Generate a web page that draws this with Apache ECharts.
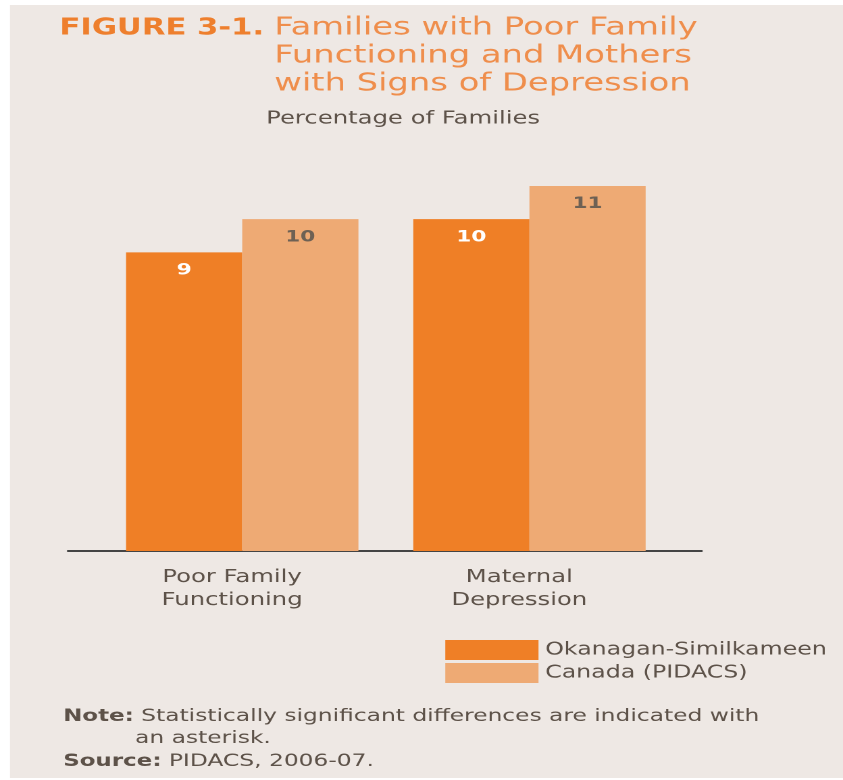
<!DOCTYPE html>
<html>
<head>
<meta charset="utf-8">
<style>
  html, body { margin: 0; padding: 0; background: #eee8e4; overflow: hidden; }
  /* The figure is laid out on a 624px-wide canvas and widened to 843px,
     giving the broad lettering of the printed figure. */
  #chart {
    width: 624px; height: 780px;
    transform: scaleX(1.35096); transform-origin: 0 0;
  }
</style>
<script src="https://cdn.jsdelivr.net/npm/echarts@6/dist/echarts.min.js"></script>
</head>
<body>
<div id="chart"></div>
<script>
// Share of families (%) by indicator
const categories = ['Poor Family\nFunctioning', 'Maternal\nDepression'];
const seriesNames = ['Okanagan-Similkameen', 'Canada (PIDACS)'];
const okanaganValues = [9, 10];
const canadaValues = [10, 11];

const FONT = '"DejaVu Sans", sans-serif';
const ORANGE = '#ef7f26';
const LIGHT = '#eeaa74';
const TEXT = '#5d5249';

const chart = echarts.init(document.getElementById('chart'), null, {
  renderer: 'canvas', devicePixelRatio: 2
});

chart.setOption({
  backgroundColor: '#ffffff',
  animation: false,
  graphic: [
    {
      type: 'rect', z: -10, silent: true,
      shape: { x: 7.4, y: 5, width: 640, height: 773 },
      style: { fill: '#eee8e4' }
    },
    {
      type: 'text', left: 46.7, top: 708,
      style: {
        text: '{b|Note:} Statistically significant differences are indicated with',
        font: '17.3px ' + FONT, fill: TEXT,
        rich: { b: { fontWeight: 'bold', fontSize: 17, fontFamily: FONT, fill: TEXT } }
      }
    },
    {
      type: 'text', left: 100, top: 730,
      style: { text: 'an asterisk.', font: '17.3px ' + FONT, fill: TEXT }
    },
    {
      type: 'text', left: 46.7, top: 753,
      style: {
        text: '{b|Source:} PIDACS, 2006-07.',
        font: '17.3px ' + FONT, fill: TEXT,
        rich: { b: { fontWeight: 'bold', fontSize: 17, fontFamily: FONT, fill: TEXT } }
      }
    }
  ],
  title: [
    {
      text: 'FIGURE 3-1.', left: 39, top: 12,
      textStyle: { fontFamily: FONT, fontSize: 22.7, fontWeight: 'bold', color: '#ee7f2d' }
    },
    {
      text: 'Families with Poor Family\nFunctioning and Mothers\nwith Signs of Depression',
      left: 198, top: 9,
      textStyle: { fontFamily: FONT, fontSize: 25, fontWeight: 'normal', color: '#ef8e4c', lineHeight: 28 }
    },
    {
      text: 'Percentage of Families', left: 192, top: 105,
      textStyle: { fontFamily: FONT, fontSize: 18, fontWeight: 'normal', color: TEXT }
    }
  ],
  legend: {
    orient: 'vertical', left: 329.6, top: 640, padding: 0,
    itemWidth: 69, itemHeight: 20, itemGap: 3,
    icon: 'rect',
    data: seriesNames,
    textStyle: { fontFamily: FONT, fontSize: 17.5, color: TEXT }
  },
  grid: [
    { left: 73, right: 125.8, top: 186, bottom: 229 },
    { left: 50.4, right: 104.7, top: 186, bottom: 229 }
  ],
  xAxis: [
    {
      type: 'category', gridIndex: 0, data: categories,
      axisLine: { show: false }, axisTick: { show: false },
      axisLabel: {
        fontFamily: FONT, fontSize: 18, color: TEXT, lineHeight: 23,
        margin: 15, padding: [0, 15, 0, 0]
      }
    },
    {
      type: 'value', gridIndex: 1, min: 0, max: 1,
      axisLine: { show: true, lineStyle: { color: '#444444', width: 2 } },
      axisTick: { show: false }, axisLabel: { show: false }, splitLine: { show: false }
    }
  ],
  yAxis: [
    { type: 'value', gridIndex: 0, min: 0, max: 11, show: false, splitLine: { show: false } },
    { type: 'value', gridIndex: 1, min: 0, max: 11, show: false, splitLine: { show: false } }
  ],
  series: [
    {
      name: seriesNames[0], type: 'bar', xAxisIndex: 0, yAxisIndex: 0,
      data: okanaganValues, barWidth: 86, barGap: '0%',
      itemStyle: { color: ORANGE },
      label: {
        show: true, position: 'insideTop', distance: 10,
        fontFamily: FONT, fontSize: 16, fontWeight: 'bold', color: '#ffffff'
      }
    },
    {
      name: seriesNames[1], type: 'bar', xAxisIndex: 0, yAxisIndex: 0,
      data: canadaValues, barWidth: 86, barGap: '0%',
      itemStyle: { color: LIGHT },
      label: {
        show: true, position: 'insideTop', distance: 10,
        fontFamily: FONT, fontSize: 16, fontWeight: 'bold', color: '#6e6154'
      }
    }
  ]
});
</script>
</body>
</html>
